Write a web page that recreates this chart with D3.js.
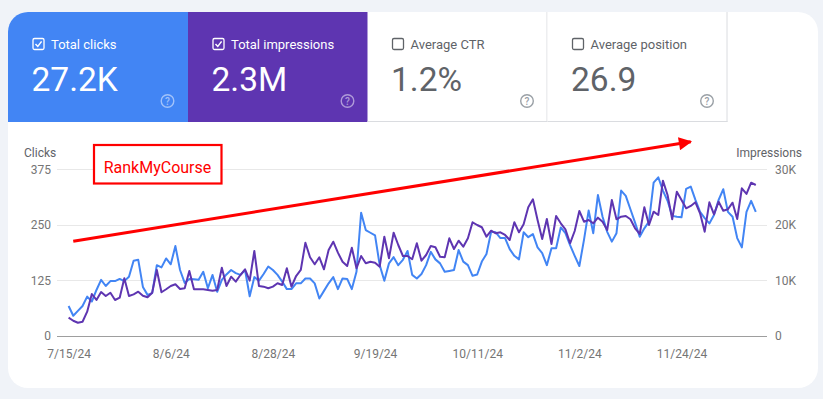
<!DOCTYPE html>
<html>
<head>
<meta charset="utf-8">
<script src="https://cdn.jsdelivr.net/npm/d3@7"></script>
<style>
  html, body { margin: 0; padding: 0; background: #f0f3f8; }
  svg { display: block; font-family: Roboto, "Noto Sans", sans-serif; }
</style>
</head>
<body>
<div id="chart"></div>
<script>
// summary cards
const cardTitles = ["Total clicks", "Total impressions", "Average CTR", "Average position"];
const cardValues = ["27.2K", "2.3M", "1.2%", "26.9"];
const cardChecked = [true, true, false, false];

// daily series, starting 7/15/24
const startDate = new Date(2024, 6, 15);
const clicks = [
  67, 45, 56, 67, 88, 77, 103, 126, 112, 123, 123, 128, 123, 133, 169, 171, 110, 92, 96, 159,
  154, 174, 161, 202, 148, 119, 128, 127, 126, 144, 107, 137, 99, 126, 138, 148, 141, 137, 148, 89,
  132, 124, 139, 156, 148, 137, 122, 105, 105, 118, 118, 129, 129, 118, 84, 101, 118, 132, 105, 129,
  128, 105, 144, 277, 238, 232, 226, 159, 124, 163, 177, 159, 171, 191, 137, 129, 139, 159, 189, 172,
  163, 144, 146, 148, 193, 167, 159, 135, 138, 167, 184, 234, 233, 220, 220, 195, 180, 172, 233, 222,
  229, 199, 186, 159, 197, 197, 244, 231, 204, 180, 157, 216, 282, 231, 317, 268, 234, 212, 231, 327,
  315, 285, 255, 223, 242, 257, 345, 357, 327, 304, 270, 268, 267, 331, 336, 306, 279, 265, 253, 272,
  306, 330, 279, 268, 220, 199, 279, 304, 279
];
const impressions = [
  3250, 2700, 2340, 2520, 4330, 7520, 6440, 7880, 7160, 7750, 6440, 6850, 10350, 7160, 7460, 7930, 7210, 6920, 7750, 11850,
  7830, 8370, 8960, 9270, 8420, 8550, 11670, 8370, 8370, 8370, 8240, 8110, 8240, 12260, 8960, 10640, 9740, 10940, 11970, 9920,
  15270, 8960, 8840, 8550, 8840, 9450, 9140, 12150, 8840, 10760, 11850, 16770, 14140, 12870, 14140, 11970, 15450, 16950, 14970, 13340,
  12570, 15870, 12150, 14370, 13050, 13340, 13160, 12440, 17850, 13960, 18570, 16350, 14370, 14370, 13780, 16660, 13520, 14550, 16170, 15940,
  14240, 14140, 17560, 15630, 17130, 16050, 17560, 20450, 19960, 19550, 17850, 18930, 18460, 18640, 18160, 17260, 20450, 18640, 20090, 23150,
  24590, 20860, 17440, 21040, 16530, 21580, 20270, 19180, 16660, 18880, 22480, 20550, 20860, 20270, 21280, 20550, 19060, 24470, 20990, 21460,
  21580, 20990, 19360, 18340, 23150, 19960, 22360, 21760, 27950, 25370, 20990, 25960, 24470, 22970, 23390, 24050, 22070, 18750, 24050, 21890,
  24160, 22540, 22790, 23980, 21040, 26580, 25550, 27590, 27170
];

// axes
const clickTicks = [0, 125, 250, 375];
const impressionTicks = [0, 10000, 20000, 30000];
const impressionTickLabels = ["0", "10K", "20K", "30K"];
const xTickDates = ["2024-07-15", "2024-08-06", "2024-08-28", "2024-09-19", "2024-10-11", "2024-11-02", "2024-11-24"];
const xTickLabels = ["7/15/24", "8/6/24", "8/28/24", "9/19/24", "10/11/24", "11/2/24", "11/24/24"];

const W = 823, H = 399;
const blue = "#4285f4", purple = "#5e35b1", grey = "#5f6368";

const svg = d3.select("#chart").append("svg")
  .attr("width", W)
  .attr("height", H);

// white panel
const panel = {x: 8, y: 12, w: 810, h: 376, r: 20};
svg.append("defs").append("clipPath").attr("id", "panel-clip")
  .append("rect")
  .attr("x", panel.x).attr("y", panel.y)
  .attr("width", panel.w).attr("height", panel.h)
  .attr("rx", panel.r);

svg.append("rect")
  .attr("x", panel.x).attr("y", panel.y)
  .attr("width", panel.w).attr("height", panel.h)
  .attr("rx", panel.r)
  .attr("fill", "#fff");

// cards
const cardW = 180, cardH = 110;
const cardFill = [blue, purple, "#fff", "#fff"];
const cards = svg.append("g").attr("clip-path", "url(#panel-clip)");

cardTitles.forEach(function(title, i) {
  let x0 = panel.x + i * cardW - (i > 1 ? 0.5 : 0);
  let y0 = panel.y;
  let selected = cardChecked[i];
  let fg = selected ? "#fff" : grey;
  let g = cards.append("g").attr("transform", "translate(" + x0 + "," + y0 + ")");

  g.append("rect")
    .attr("width", cardW).attr("height", cardH)
    .attr("fill", cardFill[i]);

  if (!selected) {
    g.append("line")
      .attr("x1", cardW - 0.5).attr("x2", cardW - 0.5)
      .attr("y1", 0).attr("y2", cardH)
      .attr("stroke", "#dadce0");
    g.append("line")
      .attr("x1", 0).attr("x2", cardW)
      .attr("y1", cardH - 0.5).attr("y2", cardH - 0.5)
      .attr("stroke", "#dadce0");
  }

  // checkbox
  g.append("rect")
    .attr("x", 25).attr("y", 26.5)
    .attr("width", 11).attr("height", 11)
    .attr("rx", 1.5)
    .attr("fill", "none")
    .attr("stroke", fg)
    .attr("stroke-width", 1.3);
  if (selected) {
    g.append("path")
      .attr("d", "M27.5,32 L29.8,34.4 L33.6,29.4")
      .attr("fill", "none")
      .attr("stroke", "#fff")
      .attr("stroke-width", 1.5);
  }

  g.append("text")
    .attr("x", 43).attr("y", 36.5)
    .attr("font-size", 13)
    .attr("fill", fg)
    .text(title);

  g.append("text")
    .attr("x", 23.5).attr("y", 78.5)
    .attr("font-size", 33.5)
    .attr("fill", fg)
    .text(cardValues[i]);

  // help icon
  let hc = selected ? "rgba(255,255,255,0.5)" : "#9aa0a6";
  g.append("circle")
    .attr("cx", 159.5).attr("cy", 89)
    .attr("r", 6.3)
    .attr("fill", "none")
    .attr("stroke", hc)
    .attr("stroke-width", 1.4);
  g.append("text")
    .attr("x", 159.5).attr("y", 93)
    .attr("text-anchor", "middle")
    .attr("font-size", 10)
    .attr("font-weight", 500)
    .attr("fill", hc)
    .text("?");
});

// chart
const plot = {left: 57, right: 767, top: 169.3, bottom: 335.7};
const dates = clicks.map(function(d, i) { return d3.timeDay.offset(startDate, i); });

let xScale = d3.scaleTime()
  .domain([d3.timeHour.offset(dates[0], -60), d3.timeHour.offset(dates[dates.length - 1], 58)])
  .range([plot.left, plot.right]);

let yLeft = d3.scaleLinear()
  .domain([0, 375])
  .range([plot.bottom, plot.top]);

let yRight = d3.scaleLinear()
  .domain([0, 30000])
  .range([plot.bottom, plot.top]);

// grid
svg.append("g")
  .selectAll("line")
  .data(clickTicks)
  .enter().append("line")
  .attr("x1", plot.left).attr("x2", plot.right)
  .attr("y1", function(d) { return Math.round(yLeft(d)) + 0.5; })
  .attr("y2", function(d) { return Math.round(yLeft(d)) + 0.5; })
  .attr("stroke", function(d) { return d === 0 ? "#9e9e9e" : "#e8e8e8"; })
  .attr("stroke-width", function(d) { return d === 0 ? 1.2 : 1; });

// left axis
let leftAxis = svg.append("g")
  .attr("transform", "translate(" + (plot.left - 6) + ",0)")
  .call(d3.axisLeft(yLeft).tickValues(clickTicks).tickSize(0).tickPadding(0));
leftAxis.select(".domain").remove();
leftAxis.selectAll("text")
  .attr("font-family", "Roboto, sans-serif")
  .attr("font-size", 12)
  .attr("fill", "#757575");

// right axis
let rightAxis = svg.append("g")
  .attr("transform", "translate(" + (plot.right + 8) + ",0)")
  .call(d3.axisRight(yRight).tickValues(impressionTicks)
    .tickFormat(function(d, i) { return impressionTickLabels[i]; })
    .tickSize(0).tickPadding(0));
rightAxis.select(".domain").remove();
rightAxis.selectAll("text")
  .attr("font-family", "Roboto, sans-serif")
  .attr("font-size", 12)
  .attr("fill", "#757575");

// bottom axis
let parseDay = d3.timeParse("%Y-%m-%d");
let bottomAxis = svg.append("g")
  .attr("transform", "translate(0," + (plot.bottom + 14) + ")")
  .call(d3.axisBottom(xScale)
    .tickValues(xTickDates.map(parseDay))
    .tickFormat(function(d, i) { return xTickLabels[i]; })
    .tickSize(0).tickPadding(0));
bottomAxis.select(".domain").remove();
bottomAxis.selectAll("text")
  .attr("font-family", "Roboto, sans-serif")
  .attr("font-size", 12)
  .attr("fill", "#757575");

// axis titles
svg.append("text")
  .attr("x", 24).attr("y", 156.5)
  .attr("font-size", 12)
  .attr("fill", grey)
  .text("Clicks");

svg.append("text")
  .attr("x", 802).attr("y", 156.5)
  .attr("text-anchor", "end")
  .attr("font-size", 12)
  .attr("fill", grey)
  .text("Impressions");

// lines
let clickLine = d3.line()
  .x(function(d, i) { return xScale(dates[i]); })
  .y(function(d) { return yLeft(d); });

let impressionLine = d3.line()
  .x(function(d, i) { return xScale(dates[i]); })
  .y(function(d) { return yRight(d); });

svg.append("path")
  .datum(clicks)
  .attr("fill", "none")
  .attr("stroke", blue)
  .attr("stroke-width", 2)
  .attr("stroke-linejoin", "round")
  .attr("d", clickLine);

svg.append("path")
  .datum(impressions)
  .attr("fill", "none")
  .attr("stroke", purple)
  .attr("stroke-width", 2)
  .attr("stroke-linejoin", "round")
  .attr("d", impressionLine);

// red annotation: trend arrow and label box
const arrowFrom = {date: "2024-07-16", clicks: 213};
const arrowTo = {date: "2024-11-26", clicks: 437};

svg.select("defs").append("marker")
  .attr("id", "arrowhead")
  .attr("viewBox", "0 0 10 10")
  .attr("refX", 9).attr("refY", 5)
  .attr("markerWidth", 6).attr("markerHeight", 4.4)
  .attr("markerUnits", "strokeWidth")
  .attr("orient", "auto")
  .append("path")
  .attr("d", "M0,0 L10,5 L0,10 Z")
  .attr("fill", "#ff0000");

svg.append("line")
  .attr("x1", xScale(parseDay(arrowFrom.date))).attr("y1", yLeft(arrowFrom.clicks))
  .attr("x2", xScale(parseDay(arrowTo.date))).attr("y2", yLeft(arrowTo.clicks))
  .attr("stroke", "#ff0000")
  .attr("stroke-width", 3)
  .attr("marker-end", "url(#arrowhead)");

svg.append("rect")
  .attr("x", 94).attr("y", 145)
  .attr("width", 127.5).attr("height", 38.5)
  .attr("fill", "#fff")
  .attr("stroke", "#ff0000")
  .attr("stroke-width", 2.2);

svg.append("text")
  .attr("x", 157.5).attr("y", 172.5)
  .attr("text-anchor", "middle")
  .attr("font-size", 16)
  .attr("fill", "#ff0000")
  .text("RankMyCourse");
</script>
</body>
</html>
